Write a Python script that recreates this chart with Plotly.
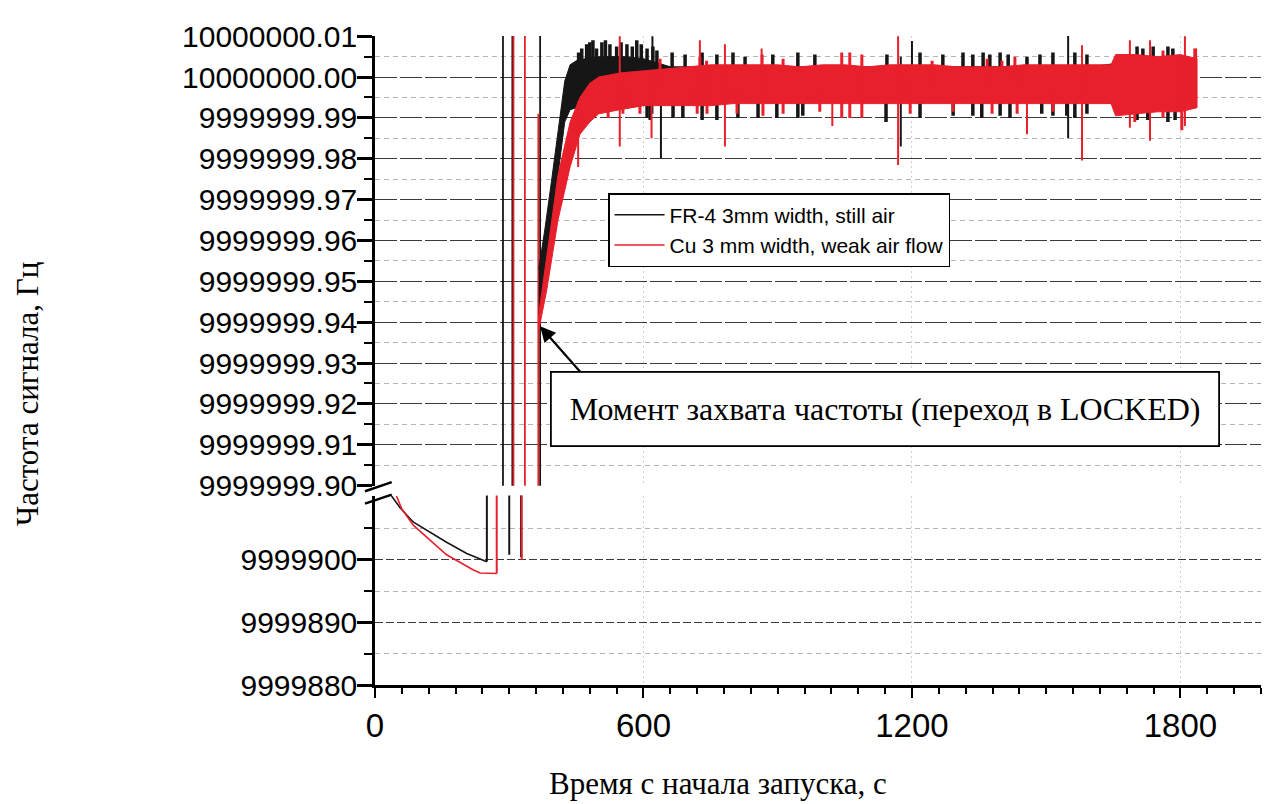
import plotly.graph_objects as go

BASE_HZ = 10000000.0  # nominal frequency; top-panel values are offsets in mHz

# ---------------- bottom panel: before lock (Hz) ----------------
fr4_decay_t = [37, 56, 86, 160, 205, 246, 250]
fr4_decay_hz = [9999910.2, 9999908.3, 9999906.0, 9999902.8, 9999901.0, 9999899.7, 9999899.7]
cu_decay_t = [48, 60, 86, 160, 219, 235, 272]
cu_decay_hz = [9999910.2, 9999908.1, 9999905.5, 9999900.8, 9999898.4, 9999897.9, 9999897.8]

# hunting jumps (vertical steps leaving the lower scale), start value in Hz
fr4_jump_t = [250, 300, 326.5]
fr4_jump_from_hz = [9999899.7, 9999900.8, 9999900.4]
cu_jump_t = [272, 328]
cu_jump_from_hz = [9999897.8, 9999900.0]
JUMP_TOP_HZ = 9999912.0

# hunting swings crossing the whole upper scale (mHz)
fr4_cross_t = [286, 307, 369]
fr4_cross_lo = [-200, -200, -200]
fr4_cross_hi = [30, 30, 30]
cu_cross_t = [309.5, 335, 365]
cu_cross_lo = [-200, -200, -200]
cu_cross_hi = [30, 30, -9]

# ---------------- top panel: locked (offset from BASE_HZ, mHz) ----------------
fr4_t = [366, 380, 395, 410, 424, 436, 450, 470, 500, 530, 560, 600, 630, 660, 700, 750, 800,
         900, 1000, 1100, 1200, 1300, 1400, 1500, 1600, 1700, 1800, 1822]
fr4_hi = [-47, -37, -25, -12, -1, 3, 4, 4.5, 5, 5, 5, 4.5, 3.5, 2.5, 2.5, 2.5, 2.5,
          2.5, 2.5, 2.5, 2.5, 2.5, 2.5, 2.5, 2.5, 4, 4, 3]
fr4_lo = [-58, -48, -36, -23, -11, -8, -7.5, -7.5, -7.5, -7.5, -7.5, -7, -6.5, -6, -6, -6, -6,
          -6, -6, -6, -6, -6, -6, -6, -6, -7, -7, -6]

cu_t = [366, 384, 409, 436, 458, 480, 500, 547, 600, 650, 700, 750, 800, 850, 900, 950,
        1000, 1050, 1100, 1150, 1200, 1250, 1300, 1350, 1400, 1450, 1500,
        1550, 1600, 1645, 1655, 1700, 1750, 1800, 1837]
cu_hi = [-58, -44, -24, -11, -5, -1.5, 0, 1, 1.5, 2, 2.5, 3, 3, 3, 3, 2.5,
         3, 3, 2.5, 3, 3, 3, 2.5, 2.5, 2.5, 3, 3,
         3, 3, 3, 5.5, 5.5, 5, 5.5, 4.5]
cu_lo = [-62, -52, -35, -22, -14, -11, -9, -8, -7, -7, -7, -7, -6.5, -6.5, -6.5, -6.5,
         -6.5, -6.5, -6.5, -6.5, -6.5, -6.5, -6.5, -6.5, -6.5, -6.5, -6.5,
         -6.5, -6.5, -6.5, -9.5, -9, -8.5, -8.5, -7.5]

# FR-4 short excursions above / below the band (mHz)
fr4_up_t = [455, 462, 473, 480, 487, 495, 507, 515, 525, 540, 550, 563, 575, 585, 595, 608,
            621, 630, 664, 693, 731, 764, 800, 827, 889, 945, 983,
            1144, 1218, 1269, 1314, 1336, 1359, 1374, 1397, 1415, 1457, 1486, 1515, 1564,
            1591, 1703, 1716, 1739, 1772, 1783]
fr4_up_v = [6, 7, 8, 8.5, 9, 7, 8.5, 9, 8, 7.5, 8.5, 8, 7.5, 9, 8, 7,
            7.5, 6.5, 6, 5.5, 6, 5.5, 6, 5, 5.5, 6, 5.5,
            5.5, 6, 5.5, 6, 5.5, 6, 5.5, 6, 5.5, 5, 5.5, 6, 6,
            5.5, 7.5, 7, 7.5, 7.5, 7]
fr4_dn_t = [608, 615, 666, 688, 731, 764, 811, 856, 898, 945, 956, 1142, 1218, 1292, 1336,
            1356, 1397, 1419, 1490, 1515, 1546, 1564, 1591, 1703, 1727, 1772, 1788]
fr4_dn_v = [-10, -10.5, -10, -10, -10.5, -10.5, -10, -10, -10, -10, -9.5, -11, -10, -9.5, -9.5,
            -10, -9.5, -10, -9, -9.5, -9.5, -10, -9, -10.5, -10.5, -11, -10.5]
FR4_MID = -1.0

# Cu short excursions above / below the band (mHz)
cu_up_t = [637, 726, 741, 865, 912, 1043, 1061, 1088, 1245, 1368, 1401, 1430, 1761, 1832]
cu_up_v = [4.5, 5, 4, 5.5, 4.5, 6, 6, 5.5, 4, 4.5, 4, 5, 6.5, 7]
cu_dn_t = [521, 554, 592, 720, 742, 809, 867, 912, 994, 1043, 1061, 1088, 1196, 1292, 1379,
           1435, 1515, 1698, 1761, 1803]
cu_dn_v = [-10, -9, -9, -9, -9, -9, -9.5, -9, -8.5, -10, -10, -10, -9, -8.5, -9,
           -9, -8.5, -11, -10, -13]
CU_MID = -2.0

# isolated spikes (mHz)
fr4_spike_t = [620, 639, 1175, 1200, 1549]
fr4_spike_lo = [-9, -20, -17, -2, -15]
fr4_spike_hi = [10, 2, 5, 8.8, 10.7]
cu_spike_t = [454, 547, 618, 726, 782, 864, 1022, 1169, 1457, 1580, 1687, 1732, 1810, 1835]
cu_spike_lo = [-22, -17, -15, -6, -17, -6, -12, -21.5, -14, -20.4, -12.4, -15.6, -12, -7]
cu_spike_hi = [-6, 10, 0, 9, 8, 7, 2, 10, 2, 7.8, 9, 9, 10, 7]

# axes
X_RANGE = [0, 1980]
X_TICKS = [0, 600, 1200, 1800]
TOP_TICK_MHZ = [-100, -90, -80, -70, -60, -50, -40, -30, -20, -10, 0, 10]
TOP_TICK_TEXT = ["9999999.90", "9999999.91", "9999999.92", "9999999.93", "9999999.94",
                 "9999999.95", "9999999.96", "9999999.97", "9999999.98", "9999999.99",
                 "10000000.00", "10000000.01"]
BOT_TICKS = [9999880, 9999890, 9999900]
BOT_MINOR = [9999885, 9999895, 9999905]
BOT_RANGE = [9999880, 9999910.25]

LBL_FR4 = "FR-4 3mm width, still air"
LBL_CU = "Cu 3 mm width, weak air flow"
ANNOT = "Момент захвата частоты (переход в LOCKED)"
X_TITLE = "Время с начала запуска, с"
Y_TITLE = "Частота сигнала, Гц"

BLACK = "#161616"
RED = "#e8202c"


def hz(m):
    return BASE_HZ + m / 1000.0


def segs(ts, los, his, conv=hz):
    xs, ys = [], []
    for t, a, b in zip(ts, los, his):
        xs += [t, t, None]
        ys += [conv(a), conv(b), None]
    return xs, ys


fig = go.Figure()

# ---- bottom panel ----
fig.add_trace(go.Scatter(x=fr4_decay_t, y=fr4_decay_hz, mode="lines", name=LBL_FR4,
                         line=dict(color=BLACK, width=1.6), xaxis="x", yaxis="y",
                         legendrank=1))
fig.add_trace(go.Scatter(x=cu_decay_t, y=cu_decay_hz, mode="lines", name=LBL_CU,
                         line=dict(color=RED, width=1.6), xaxis="x", yaxis="y",
                         legendrank=2))
xs, ys = segs(fr4_jump_t, fr4_jump_from_hz, [JUMP_TOP_HZ] * len(fr4_jump_t), conv=lambda v: v)
fig.add_trace(go.Scatter(x=xs, y=ys, mode="lines", line=dict(color=BLACK, width=2),
                         showlegend=False, xaxis="x", yaxis="y"))
xs, ys = segs(cu_jump_t, cu_jump_from_hz, [JUMP_TOP_HZ] * len(cu_jump_t), conv=lambda v: v)
fig.add_trace(go.Scatter(x=xs, y=ys, mode="lines", line=dict(color=RED, width=2),
                         showlegend=False, xaxis="x", yaxis="y"))

# ---- top panel ----
xs, ys = segs(fr4_cross_t, fr4_cross_lo, fr4_cross_hi)
fig.add_trace(go.Scatter(x=xs, y=ys, mode="lines", line=dict(color=BLACK, width=1.8),
                         showlegend=False, xaxis="x2", yaxis="y2"))
xs, ys = segs(cu_cross_t, cu_cross_lo, cu_cross_hi)
fig.add_trace(go.Scatter(x=xs, y=ys, mode="lines", line=dict(color=RED, width=1.8),
                         showlegend=False, xaxis="x2", yaxis="y2"))

# FR-4 band and its excursions
fig.add_trace(go.Scatter(x=fr4_t + fr4_t[::-1],
                         y=[hz(v) for v in fr4_hi] + [hz(v) for v in fr4_lo[::-1]],
                         mode="lines", fill="toself", fillcolor=BLACK,
                         line=dict(color=BLACK, width=1), showlegend=False,
                         xaxis="x2", yaxis="y2"))
xs, ys = segs(fr4_up_t, [FR4_MID] * len(fr4_up_t), fr4_up_v)
xs2, ys2 = segs(fr4_dn_t, fr4_dn_v, [FR4_MID] * len(fr4_dn_t))
fig.add_trace(go.Scatter(x=xs + xs2, y=ys + ys2, mode="lines",
                         line=dict(color=BLACK, width=3.5), showlegend=False,
                         xaxis="x2", yaxis="y2"))
xs, ys = segs(fr4_spike_t, fr4_spike_lo, fr4_spike_hi)
fig.add_trace(go.Scatter(x=xs, y=ys, mode="lines", line=dict(color=BLACK, width=2),
                         showlegend=False, xaxis="x2", yaxis="y2"))

# Cu band and its excursions
fig.add_trace(go.Scatter(x=cu_t + cu_t[::-1],
                         y=[hz(v) for v in cu_hi] + [hz(v) for v in cu_lo[::-1]],
                         mode="lines", fill="toself", fillcolor=RED,
                         line=dict(color=RED, width=1), showlegend=False,
                         xaxis="x2", yaxis="y2"))
xs, ys = segs(cu_up_t, [CU_MID] * len(cu_up_t), cu_up_v)
xs2, ys2 = segs(cu_dn_t, cu_dn_v, [CU_MID] * len(cu_dn_t))
fig.add_trace(go.Scatter(x=xs + xs2, y=ys + ys2, mode="lines",
                         line=dict(color=RED, width=3), showlegend=False,
                         xaxis="x2", yaxis="y2"))
xs, ys = segs(cu_spike_t, cu_spike_lo, cu_spike_hi)
fig.add_trace(go.Scatter(x=xs, y=ys, mode="lines", line=dict(color=RED, width=2),
                         showlegend=False, xaxis="x2", yaxis="y2"))

TICKFONT = dict(family="Liberation Sans, Arial, sans-serif", size=30, color="black")
XTICKFONT = dict(family="Liberation Sans Narrow, Arial Narrow, Liberation Sans, sans-serif",
                 size=33, color="black")
SERIF = "Liberation Serif, Times New Roman, serif"
MAJOR_GRID = dict(showgrid=True, gridcolor="#3a3a3a", gridwidth=1.2, griddash="22px,3px")
MINOR_GRID = dict(showgrid=True, gridcolor="#b4b4b4", gridwidth=1, griddash="5px,4px")

fig.update_layout(
    width=1265, height=796,
    margin=dict(l=367, r=12, t=19, b=119),
    paper_bgcolor="white", plot_bgcolor="white",
    showlegend=True,
    legend=dict(x=0.263, y=0.758, xanchor="left", yanchor="top", bgcolor="white",
                bordercolor="black", borderwidth=1.5, itemwidth=50,
                font=dict(family="Liberation Sans, Arial, sans-serif", size=21, color="black"),
                tracegroupgap=0),
    xaxis=dict(domain=[0, 1], anchor="y", range=X_RANGE, tickmode="array", tickvals=X_TICKS,
               ticks="outside", ticklen=10, tickwidth=2, tickcolor="black",
               showline=True, linewidth=2.5, linecolor="black", zeroline=False,
               showgrid=True, gridcolor="#d0d0d0", gridwidth=1, griddash="2px,3px",
               tickfont=XTICKFONT,
               minor=dict(tickmode="linear", tick0=0, dtick=60, ticks="outside", ticklen=6,
                          tickwidth=1.5, tickcolor="black", showgrid=False)),
    xaxis2=dict(anchor="y2", matches="x", showticklabels=False, showline=False, ticks="",
                zeroline=False, showgrid=True, gridcolor="#d0d0d0", gridwidth=1,
                griddash="2px,3px", tickmode="array", tickvals=X_TICKS),
    yaxis=dict(domain=[0, 0.2918], range=BOT_RANGE, tickmode="array", tickvals=BOT_TICKS,
               ticktext=[str(v) for v in BOT_TICKS], ticklabelstandoff=-6,
               ticks="outside", ticklen=15, tickwidth=2.5, tickcolor="black",
               showline=True, linewidth=2.5, linecolor="black", zeroline=False,
               tickfont=TICKFONT, gridcolor="#3a3a3a", gridwidth=1.2, griddash="8px,3px",
               showgrid=True,
               minor=dict(tickmode="array", tickvals=BOT_MINOR, ticks="outside", ticklen=8,
                          tickwidth=2, tickcolor="black", **MINOR_GRID)),
    yaxis2=dict(domain=[0.307, 1], range=[hz(-100.05), hz(10.05)], tickmode="array",
                tickvals=[hz(v) for v in TOP_TICK_MHZ], ticktext=TOP_TICK_TEXT,
                ticklabelstandoff=-6,
                ticks="outside", ticklen=15, tickwidth=2.5, tickcolor="black",
                showline=True, linewidth=2.5, linecolor="black", zeroline=False,
                tickfont=TICKFONT, **MAJOR_GRID,
                minor=dict(tickmode="array",
                           tickvals=[hz(v + 5) for v in TOP_TICK_MHZ[:-1]],
                           ticks="outside", ticklen=8, tickwidth=2, tickcolor="black",
                           **MINOR_GRID)),
    annotations=[
        dict(x=369, y=hz(-61), xref="x2", yref="y2", text="", showarrow=True,
             ax=44, ay=50, arrowhead=2, arrowsize=1.4, arrowwidth=2.2, arrowcolor="black"),
        dict(x=0.5756, y=0.426, xref="paper", yref="paper", xanchor="center",
             yanchor="middle", text=ANNOT, showarrow=False,
             font=dict(family=SERIF, size=32, color="black"),
             bgcolor="white", bordercolor="black", borderwidth=1.8, borderpad=18),
        dict(x=0.387, y=-0.152, xref="paper", yref="paper", xanchor="center",
             yanchor="middle", text=X_TITLE, showarrow=False,
             font=dict(family=SERIF, size=31, color="black")),
        dict(x=-0.392, y=0.448, xref="paper", yref="paper", xanchor="center",
             yanchor="middle", text=Y_TITLE, showarrow=False, textangle=-90,
             font=dict(family=SERIF, size=31, color="black")),
    ],
    shapes=[
        dict(type="line", xref="paper", yref="paper", x0=-0.0113, y0=0.2985, x1=0.0189,
             y1=0.3126, line=dict(color="black", width=2.5)),
        dict(type="line", xref="paper", yref="paper", x0=-0.0113, y0=0.2794, x1=0.0189,
             y1=0.2933, line=dict(color="black", width=2.5)),
    ],
)

fig.write_html("out.html")
